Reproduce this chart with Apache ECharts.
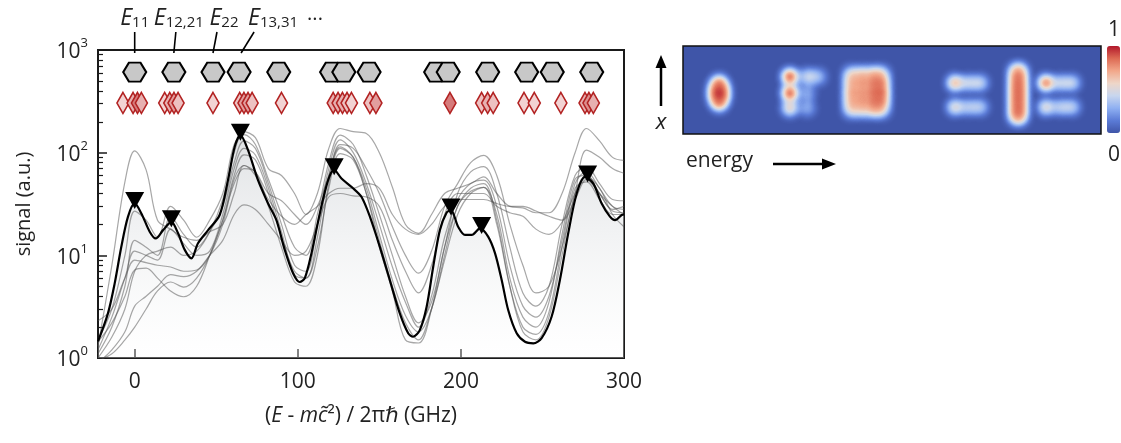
<!DOCTYPE html>
<html><head><meta charset="utf-8">
<script src="https://cdn.jsdelivr.net/npm/echarts@6/dist/echarts.min.js"></script>
<style>html,body{margin:0;padding:0;background:#fff}#c{width:1121px;height:443px}</style>
</head><body><div id="c"></div>
<script>
const FONT = "'Open Sans', 'DejaVu Sans', sans-serif";

// ---- mean spectrum (thick black) ----
const blackX = [-22.5,-16.4,-12.3,-8.2,-4.1,0,4.1,9.2,12.9,17.4,22.5,26.6,30.7,34.8,38.8,45,52.1,57.2,61.3,64.8,69.5,75.6,81.8,86.9,92,97.1,101.2,104.3,108.4,113.5,118.6,122.3,126.8,133.9,139.1,144.2,150.3,156.4,162.6,167.7,170.7,174.8,179,183,187.1,191.2,193.9,198.3,202.5,206.6,211.7,216.7,220.9,225,229,234.2,239.3,244.4,249.5,255.6,260.7,265.8,271,276.1,281.2,286.3,291.4,294.5,298.6,300];
const blackY = [1.45,2.72,5.3,12.1,23.8,32,25.6,17,14.6,17.6,21.2,16.4,11.3,9.35,13.1,17.6,24.7,54,114,148,106,54,32,22,11.3,6.7,5.5,6,10.5,25.6,54,68,56,45,37,23.8,12.1,5.75,2.7,1.74,1.61,1.87,3.16,7.7,17.6,26,27.6,19,15.8,15.8,18.3,15.2,10.5,5.75,2.93,1.74,1.44,1.39,1.56,2.52,5.75,16.4,40,58,50,32,23.8,22,24.7,25];

// ---- peak markers (triangles) ----
const peakX = [0,22.5,64.8,122.3,193.9,212.7,277.7];
const peakY = [32,21.2,148,68,27.6,18.3,58];

// ---- individual spectra (thin grey) ----
const grayX = [-22.5,-14,-6,0,7,14,22,30,38,46,54,61,67,74,82,90,98,105,112,119,126,134,142,150,158,166,174,182,190,198,206,214,222,230,238,246,254,262,270,277,285,293,300];
const gray1 = [1.3,8,52,104,68,22,18,15,14,17,20,40,75,65,40,34,25,20,30,60,120,110,70,40,19,10,6.7,11,30,50,80,94,60,20,8,4.3,5,12,40,106,90,70,63];
const gray2 = [1.0,1.6,3,7,10,11,12,10,11,17,35,100,160,140,70,60,40,25,40,110,172,160,154,100,46,20,16.4,25,40,45,50,58,40,30,29,26,26,40,100,172,130,90,84];
const gray3 = [1.5,3,10,27,22,15,30,22,15,22,40,120,150,120,55,25,12,10,25,80,148,120,60,25,10,4,2.2,3.5,12,40,65,73,40,12,4.3,3.2,5,20,60,73,50,35,34];
const gray4 = [1.1,2,5,14,12,10,24,16,12,17,30,80,130,110,50,20,8,7,20,70,133,100,50,20,7.7,3.5,2.0,4,15,35,50,54,30,8,3.2,2.5,4,14,50,65,45,30,28];
const gray5 = [1.2,2.5,6,11,10,9,18,13,10,11,25,70,110,95,45,17,6.5,6,15,60,114,90,45,16,5.75,2.6,1.8,3,10,30,42,46,25,6,2.5,2.0,3.5,16,55,60,40,27,26];
const gray6 = [2.3,3,6,9,8.5,8,7.7,7,7.2,10,20,55,75,60,35,24,20,25,30,40,45,45,50,45,25,18,16,20,30,35,35,35,32,30,30,27,24,22,35,55,40,30,25];
const gray7 = [0.9,1.2,1.8,3.2,4,5,6.5,6.2,7,10,14,25,31,28,20,14,10,11,20,37,40,38,37,30,14,7,4.3,8,25,40,40,40,30,26,24,18,16,21,40,58,45,25,19];
const gray8 = [0.95,1.1,1.5,2,3,4.5,5.5,4.9,6,10,22,60,95,85,40,15,7,6,12,45,98,85,40,14,5,2.2,1.5,3,9,25,40,46,20,5,2.0,1.7,2.8,12,45,52,35,25,25];
const gray9 = [1.44,2.2,4,7.2,7.5,6,4.5,3.95,5,10,22,50,70,65,30,12,5.5,5,10,50,110,90,40,12,4.5,1.5,1.4,3,12,30,45,50,22,5,1.8,1.5,2.5,10,40,60,40,28,30];
const grays = [gray1,gray2,gray3,gray4,gray5,gray6,gray7,gray8,gray9];

// ---- computed levels (hexagons) and other levels (diamonds) ----
const hexX = [0,24,48,64,88.3,120.7,128.2,143.7,184.5,192.2,216.4,240.3,256,280.2];
const hexLevel = 610;
const diaX = [-7.2,-1,1.7,4.1,18.4,21.5,24.1,26.6,48,64.4,67,69.5,72,90,121.7,124.7,127.4,130.2,132.9,144.2,147.9,193.3,212.7,216.4,219.8,238.7,245,261.3,276.1,278.5,281.2];
const diaShade = [0.1,0.3,0.6,0.3,0.1,0.3,0.4,0.2,0.1,0.2,0.4,0.4,0.2,0.1,0.3,0.3,0.3,0.2,0.1,0.2,0.4,0.6,0.2,0.3,0.2,0.1,0.1,0.1,0.3,0.5,0.3];
const diaLevel = 305;

// ---- tick values ----
const xTicks = [0,100,200,300];
const yMajor = [1,10,100,1000];
const yMinor = [2,3,4,5,6,7,8,9,20,30,40,50,60,70,80,90,200,300,400,500,600,700,800,900];

// ---- annotation labels ----
const levelLabels = ['11','12,21','22','13,31'];
const levelLabelE = [0,24,48,64];

// ---- spatial image (energy, x, intensity) ----
const hmE = [8.2,8.2,8.2,7.2,9.2,7.2,9.2,
  24.3,24.3,24.3,28.2,30.7,28.2,28.2,
  38.2,40.7,43.2,45.2, 38.2,40.7,43.2,45.2, 38.2,40.7,43.2,45.2, 38.2,40.7,43.2,45.2, 38.2,40.7,43.2,45.2,
  61.8,61.8,64.8,67.5,64.8,67.5,
  75.6,75.6,75.6,75.6,75.6,75.6,75.6, 76.7,76.7,76.7,76.7,76.7,76.7,76.7,
  82.5,82.5,85.7,88.4,85.7,88.4];
const hmX = [11.6,9.3,7.0,10.3,10.3,8.3,8.3,
  13.0,9.3,5.9,13.0,13.0,9.3,5.9,
  13.6,13.6,13.6,13.6, 11.6,11.6,11.6,11.6, 9.5,9.5,9.5,9.5, 7.5,7.5,7.5,7.5, 5.5,5.5,5.5,5.5,
  11.6,6.1,11.6,11.6,6.1,6.1,
  14.4,12.6,10.8,9.0,7.2,5.4,3.8, 14.4,12.6,10.8,9.0,7.2,5.4,3.8,
  11.6,6.1,11.6,11.6,6.1,6.1];
const hmV = [0.75,0.97,0.75,0.4,0.4,0.4,0.4,
  0.95,0.95,0.6,0.45,0.35,0.3,0.3,
  0.5,0.55,0.55,0.5, 0.55,0.6,0.65,0.68, 0.6,0.6,0.68,0.75, 0.55,0.6,0.65,0.68, 0.5,0.5,0.55,0.5,
  0.7,0.55,0.45,0.45,0.4,0.4,
  0.45,0.5,0.53,0.53,0.53,0.5,0.45, 0.45,0.5,0.53,0.53,0.53,0.5,0.45,
  0.85,0.55,0.45,0.45,0.42,0.42];
const hmColors = ['#3f55a8','#5b7bd6','#8fb0f2','#c8d6ee','#eed6c8','#f2a78a','#dd6a54','#b2182b'];

function mix(a, b, t) {
  const pa = [1,3,5].map(i => parseInt(a.substr(i,2),16));
  const pb = [1,3,5].map(i => parseInt(b.substr(i,2),16));
  return 'rgb(' + pa.map((v,i) => Math.round(v + (pb[i]-v)*t)).join(',') + ')';
}

echarts.registerMap('imgbox', {type:'FeatureCollection', features:[{type:'Feature', properties:{name:'box'},
  geometry:{type:'Polygon', coordinates:[[[0,0],[95,0],[95,20],[0,20],[0,0]]]}}]});

const chart = echarts.init(document.getElementById('c'));
const axisCol = '#1a1a1a';
const series = [];
series.push({type:'line', data: blackX.map((x,i)=>[x, blackY[i]]), smooth:0.3, symbol:'none', showSymbol:false,
  lineStyle:{width:0, opacity:0}, z:1, silent:true,
  areaStyle:{origin:'start', color:{type:'linear',x:0,y:0,x2:0,y2:1,colorStops:[{offset:0,color:'rgba(200,204,208,0.8)'},{offset:1,color:'rgba(255,255,255,0.4)'}]}}});
grays.forEach(g => series.push({type:'line', data: grayX.map((x,i)=>[x, g[i]]), smooth:0.35, symbol:'none', showSymbol:false,
  lineStyle:{width:1.2, color:'rgba(80,80,80,0.5)'}, z:2, silent:true}));
series.push({type:'line', data: blackX.map((x,i)=>[x, blackY[i]]), smooth:0.3, symbol:'none', showSymbol:false,
  lineStyle:{width:2.2, color:'#000'}, z:3, silent:true});
series.push({type:'scatter', data: peakX.map((x,i)=>[x, peakY[i]]), symbol:'path://M0,0 L2,0 L1,1.75 Z',
  symbolSize:[19,17], symbolOffset:[0,-3], itemStyle:{color:'#000', opacity:1}, z:4, silent:true});
series.push({type:'scatter', data: hexX.map(x=>[x, hexLevel]), symbol:'path://M-2,0 L-1,-1.732 L1,-1.732 L2,0 L1,1.732 L-1,1.732 Z',
  symbolSize:[23,19], itemStyle:{color:'#c8c8c8', borderColor:'#000', borderWidth:2, opacity:1}, z:4, silent:true});
series.push({type:'scatter', data: diaX.map((x,i)=>({value:[x, diaLevel], itemStyle:{color: mix('#f8e4e4','#c03535',diaShade[i])}})),
  symbol:'diamond', symbolSize:[12,21], itemStyle:{borderColor:'#b22222', borderWidth:1.7, opacity:1}, z:4, silent:true});
const hmIndex = series.length;
series.push({type:'heatmap', coordinateSystem:'geo', geoIndex:0, data: hmE.map((e,i)=>[e, hmX[i], hmV[i]]),
  pointSize:8, blurSize:8, minOpacity:1, maxOpacity:1, silent:true});

const option = {
  animation:false,
  backgroundColor:'#fff',
  textStyle:{fontFamily:FONT},
  grid:{left:98, top:50, width:526, height:308, show:true, borderColor:axisCol, borderWidth:2, backgroundColor:'transparent'},
  xAxis:{type:'value', min:-22.5, max:300, axisLine:{show:false, onZero:false}, splitLine:{show:false},
    axisTick:{inside:true, length:9, lineStyle:{color:axisCol, width:1.5}, customValues:xTicks},
    axisLabel:{customValues:xTicks, fontSize:21, color:'#222', margin:14, fontFamily:FONT},
    name:'({i|E} - {i|mc\u0303}\u00b2) / 2\u03c0{i|\u210f} (GHz)', nameLocation:'middle', nameGap:48,
    nameTextStyle:{fontSize:21, color:'#222', fontFamily:FONT, rich:{i:{fontStyle:'italic', fontSize:21, color:'#222', fontFamily:FONT}}}},
  yAxis:[{type:'log', logBase:10, min:1, max:1000, position:'left', axisLine:{show:false, onZero:false}, splitLine:{show:false},
    axisTick:{inside:true, length:9, lineStyle:{color:axisCol, width:1.5}, customValues:yMajor},
    axisLabel:{customValues:yMajor, margin:10, formatter: v => '{b|10}{s|' + Math.round(Math.log10(v)) + '}',
      rich:{b:{fontSize:21, color:'#222', fontFamily:FONT, lineHeight:26, verticalAlign:'bottom'}, s:{fontSize:13, color:'#222', fontFamily:FONT, lineHeight:14, verticalAlign:'top'}}},
    name:'signal (a.u.)', nameLocation:'middle', nameGap:64, nameRotate:90,
    nameTextStyle:{fontSize:20, color:'#222', fontFamily:FONT}},
   {type:'log', logBase:10, min:1, max:1000, position:'left', offset:0, axisLine:{show:false, onZero:false}, splitLine:{show:false},
    axisLabel:{show:false}, axisTick:{inside:true, length:5, lineStyle:{color:axisCol, width:1.2}, customValues:yMinor}}],
  geo:{map:'imgbox', left:683, top:46, width:418, height:88, aspectScale:1, roam:false, silent:true,
    label:{show:false}, itemStyle:{areaColor:hmColors[0], borderColor:'#111', borderWidth:1.5},
    emphasis:{disabled:true}},
  visualMap:{type:'continuous', min:0, max:1, seriesIndex:hmIndex, calculable:false, orient:'vertical',
    left:1107, top:46, itemWidth:13, itemHeight:87, padding:0, text:null, showLabel:false,
    inRange:{color:hmColors}},
  series: series
};
chart.setOption(option);

// annotation graphics (level labels, arrows, image labels)
const g = [];
const txt = {fontFamily:FONT, fill:'#222'};
const topDx = [0,2,4,15], botDx = [0,0,0,2], lblDx = [0,5,11,34];
levelLabelE.forEach((e,i) => {
  const px = chart.convertToPixel({xAxisIndex:0}, e);
  g.push({type:'line', shape:{x1:px+topDx[i], y1:32, x2:px+botDx[i], y2:53}, style:{stroke:'#000', lineWidth:1.6}, silent:true});
  g.push({type:'text', x:px+lblDx[i], y:30, style:Object.assign({}, txt, {
    text:'{e|E}{s|' + levelLabels[i] + '}', align:'center', verticalAlign:'bottom',
    rich:{e:{fontSize:23, fontStyle:'italic', fontFamily:FONT, fill:'#222', lineHeight:26, verticalAlign:'bottom'},
          s:{fontSize:15, fontFamily:FONT, fill:'#222', lineHeight:14, verticalAlign:'bottom'}}}), silent:true});
});
g.push({type:'text', x:315, y:24, style:Object.assign({}, txt, {text:'...', fontSize:20, align:'center', verticalAlign:'bottom'}), silent:true});
// colour bar end labels
g.push({type:'text', x:1114, y:30, style:Object.assign({}, txt, {text:'1', fontSize:21, align:'center', verticalAlign:'middle'}), silent:true});
g.push({type:'text', x:1114, y:155, style:Object.assign({}, txt, {text:'0', fontSize:21, align:'center', verticalAlign:'middle'}), silent:true});
// x arrow (up)
g.push({type:'line', shape:{x1:661, y1:106, x2:661, y2:64}, style:{stroke:'#000', lineWidth:2.5}, silent:true});
g.push({type:'polygon', shape:{points:[[655.5,68],[666.5,68],[661,55]]}, style:{fill:'#000'}, silent:true});
g.push({type:'text', x:661, y:123, style:Object.assign({}, txt, {text:'x', fontSize:22, fontStyle:'italic', align:'center', verticalAlign:'middle'}), silent:true});
// energy arrow
g.push({type:'text', x:686, y:161, style:Object.assign({}, txt, {text:'energy', fontSize:21, align:'left', verticalAlign:'middle'}), silent:true});
g.push({type:'line', shape:{x1:773, y1:164, x2:826, y2:164}, style:{stroke:'#000', lineWidth:2.5}, silent:true});
g.push({type:'polygon', shape:{points:[[822,158.5],[822,169.5],[836,164]]}, style:{fill:'#000'}, silent:true});
chart.setOption({graphic: g});
</script></body></html>
